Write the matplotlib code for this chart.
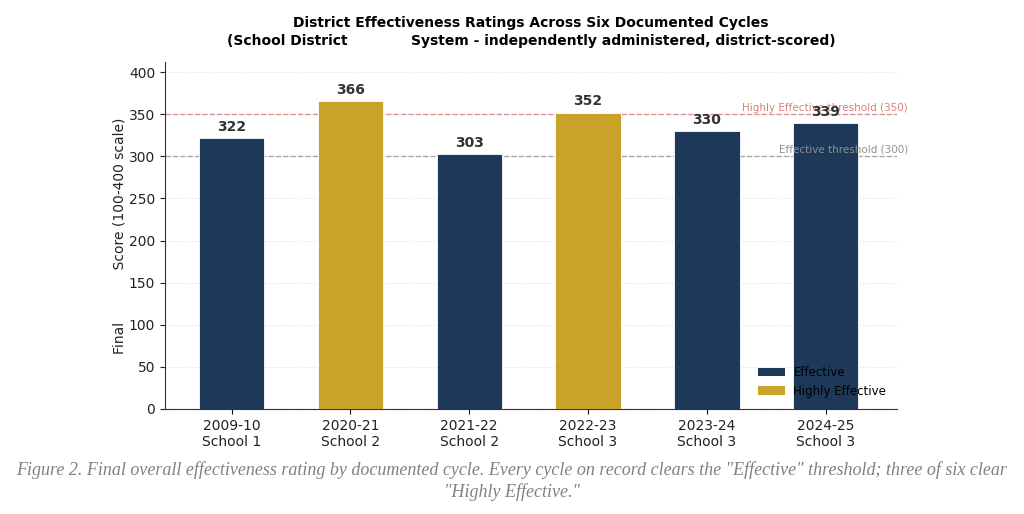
import matplotlib
matplotlib.use("Agg")
import matplotlib.pyplot as plt
import matplotlib.transforms as mtransforms
from matplotlib.patches import Patch

cycles = ["2009-10", "2020-21", "2021-22", "2022-23", "2023-24", "2024-25"]
schools = ["School 1", "School 2", "School 2", "School 3", "School 3", "School 3"]
scores = [322, 366, 303, 352, 330, 339]
ratings = ["Effective", "Highly Effective", "Effective", "Highly Effective", "Effective", "Effective"]
thresholds = [300, 350]
threshold_labels = ["Effective threshold (300)", "Highly Effective threshold (350)"]
yticks = [0, 50, 100, 150, 200, 250, 300, 350, 400]

NAVY = "#1d3859"
GOLD = "#c9a22a"
colors = {"Effective": NAVY, "Highly Effective": GOLD}

fig = plt.figure(figsize=(10.24, 5.14), dpi=100)
ax = fig.add_axes([165/1024, 1 - 409/514, (897-165)/1024, (409-62)/514])

x = list(range(len(cycles)))
ax.bar(x, scores, width=0.55, color=[colors[r] for r in ratings],
       edgecolor="white", linewidth=0.6, zorder=3)
for xi, s in zip(x, scores):
    ax.text(xi, s + 5, str(s), ha="center", va="bottom", fontsize=10,
            fontweight="bold", color="#333333", zorder=5)

trans = mtransforms.blended_transform_factory(ax.transAxes, ax.transData)
ax.axhline(thresholds[0], color="#a8a8a8", linestyle="--", linewidth=1.0, zorder=2)
ax.axhline(thresholds[1], color="#e39090", linestyle="--", linewidth=1.0, zorder=2)
ax.text(1.015, thresholds[0] + 2, threshold_labels[0], transform=trans, ha="right",
        va="bottom", fontsize=7.5, color="#8f8f8f", zorder=4)
ax.text(1.015, thresholds[1] + 2, threshold_labels[1], transform=trans, ha="right",
        va="bottom", fontsize=7.5, color="#d9807a", zorder=4)

ax.set_ylim(0, 412)
ax.set_xlim(-0.56, 5.6)
ax.set_yticks(yticks)
ax.set_xticks(x)
ax.set_xticklabels([f"{c}\n{s}" for c, s in zip(cycles, schools)], fontsize=10, color="#222222")
ax.tick_params(axis="y", labelsize=10, colors="#222222")
ax.set_ylabel("Final            Score (100-400 scale)", fontsize=10, color="#222222", labelpad=2)
ax.yaxis.grid(True, linestyle=":", color="#dddddd", linewidth=0.8, zorder=0)
ax.set_axisbelow(True)
for sp in ["top", "right"]:
    ax.spines[sp].set_visible(False)
for sp in ["left", "bottom"]:
    ax.spines[sp].set_color("#333333")

handles = [Patch(facecolor=NAVY, label="Effective"), Patch(facecolor=GOLD, label="Highly Effective")]
leg = ax.legend(handles=handles, loc="lower right", frameon=False, fontsize=8.5,
                bbox_to_anchor=(0.995, 0.012), labelspacing=0.45, handlelength=2.3,
                handletextpad=0.7, borderaxespad=0.2)
leg.set_zorder(6)

fig.text(531/1024, 1 - 32/514, "District Effectiveness Ratings Across Six Documented Cycles\n"
         "(School District             System - independently administered, district-scored)",
         ha="center", va="center", fontsize=10, fontweight="bold", linespacing=1.3)

fig.text(0.5, 1 - 481/514,
         "Figure 2. Final overall effectiveness rating by documented cycle. Every cycle on record clears the \"Effective\" threshold; three of six clear\n\"Highly Effective.\"",
         ha="center", va="center", fontsize=13.0, style="italic", family="Liberation Serif",
         color="#808080", linespacing=1.25)

fig.savefig("out.png", dpi=100)
